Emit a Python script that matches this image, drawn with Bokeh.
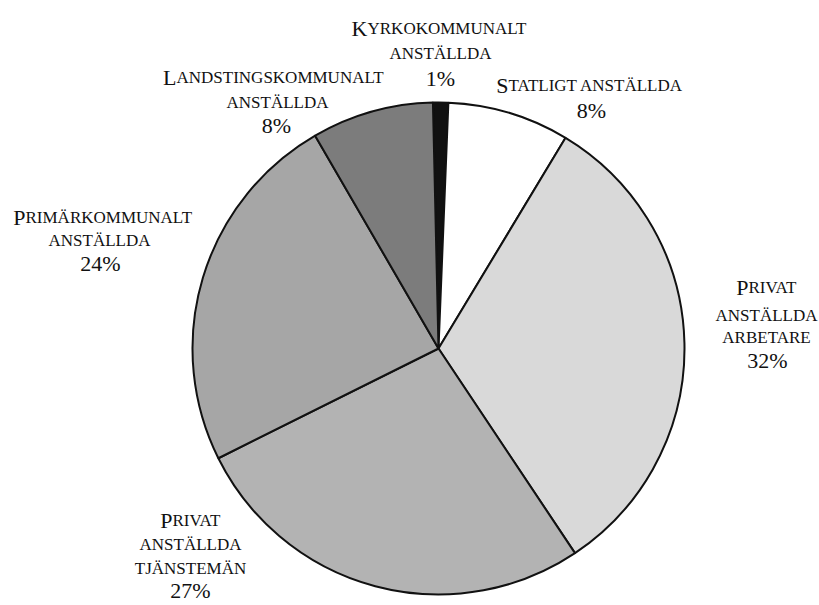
import math
from bokeh.plotting import figure
from bokeh.models import ColumnDataSource, Range1d
from bokeh.embed import file_html
from bokeh.resources import INLINE
from bokeh.core.properties import value

# ---------------- data ----------------
categories = [
    "Kyrkokommunalt anställda",
    "Statligt anställda",
    "Privat anställda arbetare",
    "Privat anställda tjänstemän",
    "Primärkommunalt anställda",
    "Landstingskommunalt anställda",
]
values = [1, 8, 32, 27, 24, 8]
label_first = ["Kyrkokommunalt", "Statligt anställda", "Privat", "Privat",
               "Primärkommunalt", "Landstingskommunalt"]
label_more = [["anställda"], [], ["anställda", "arbetare"], ["anställda", "tjänstemän"],
              ["anställda"], ["anställda"]]

# ---------------- style / layout ----------------
colors = ["#111111", "#ffffff", "#d9d9d9", "#b3b3b3", "#a6a6a6", "#7c7c7c"]
FONT = value("Liberation Serif")
TXT = "#111111"
start_offset_deg = -1.3          # clockwise from 12 o'clock
cx_page, cy_page, radius = 438, 348, 246

# label positions in page pixels
split_x = [367, 508, 748, 172, 25, 176]
first_base = [28, 85, 287, 520, 217, 77]
line_x = [440, 591, 766, 190, 99, 277]
line_bases = [[53], [], [315, 337], [544, 568], [240], [102]]
pct_x = [440, 591, 767, 190, 100, 276]
pct_base = [78, 110, 360, 590, 263, 125]

W, H = 819, 605
def Y(py):
    return H - py

p = figure(width=W, height=H, output_backend="svg", toolbar_location=None,
           x_range=Range1d(0, W), y_range=Range1d(0, H),
           min_border=0, background_fill_color="white", border_fill_color="white")
p.axis.visible = False
p.grid.visible = False
p.outline_line_color = None

# wedges from values
total = sum(values)
starts, ends = [], []
acc = start_offset_deg
for v in values:
    a0 = acc
    a1 = acc + 360.0 * v / total
    starts.append(math.radians(90 - a0))
    ends.append(math.radians(90 - a1))
    acc = a1

src = ColumnDataSource(dict(cat=categories, val=values, start=starts, end=ends, color=colors,
                            x=[cx_page] * len(values), y=[Y(cy_page)] * len(values)))
p.wedge(x="x", y="y", radius=radius, start_angle="start", end_angle="end",
        direction="clock", fill_color="color", line_color="#111111", line_width=2, source=src)

# labels (small caps imitation)
big_src = ColumnDataSource(dict(x=split_x, y=[Y(b) for b in first_base],
                                t=[s[0].upper() for s in label_first]))
small_src = ColumnDataSource(dict(x=split_x, y=[Y(b) for b in first_base],
                                  t=[s[1:].upper() for s in label_first]))
p.text(x="x", y="y", text="t", source=big_src, text_font=FONT, text_font_size="22px",
       text_align="right", text_baseline="alphabetic", text_color=TXT)
p.text(x="x", y="y", text="t", source=small_src, text_font=FONT, text_font_size="17px",
       text_align="left", text_baseline="alphabetic", text_color=TXT)

lx, ly, lt = [], [], []
for i, lines in enumerate(label_more):
    for ln, b in zip(lines, line_bases[i]):
        lx.append(line_x[i]); ly.append(Y(b)); lt.append(ln.upper())
p.text(x=lx, y=ly, text=lt, text_font=FONT, text_font_size="17px",
       text_align="center", text_baseline="alphabetic", text_color=TXT)

pct_src = ColumnDataSource(dict(x=pct_x, y=[Y(b) for b in pct_base],
                                t=[f"{v}%" for v in values]))
p.text(x="x", y="y", text="t", source=pct_src, text_font=FONT, text_font_size="22px",
       text_align="center", text_baseline="alphabetic", text_color=TXT)

open("out.html", "w").write(file_html(p, INLINE))
